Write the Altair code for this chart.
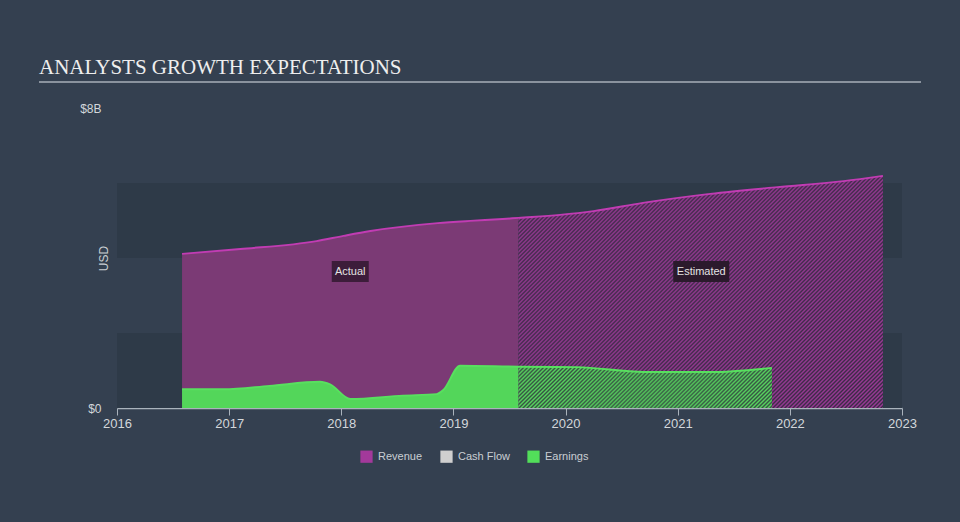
import altair as alt
import pandas as pd

# ---------------- data ----------------
rev_act_x = [2016.58, 2017.1, 2017.78, 2018.02, 2018.26, 2018.86, 2019.15, 2019.44, 2019.58]
rev_act_y = [4.11, 4.24, 4.45, 4.59, 4.72, 4.93, 4.99, 5.04, 5.07]

rev_est_x = [2019.58, 2019.95, 2020.25, 2020.69, 2021.29, 2021.89, 2022.48, 2022.83]
rev_est_y = [5.07, 5.15, 5.25, 5.47, 5.71, 5.89, 6.05, 6.19]

earn_act_x = [2016.58, 2016.95, 2017.36, 2017.81, 2017.9, 2018.08, 2018.55, 2018.85, 2018.91, 2019.06, 2019.58]
earn_act_y = [0.50, 0.50, 0.59, 0.70, 0.63, 0.24, 0.33, 0.37, 0.48, 1.13, 1.10]

earn_est_x = [2019.58, 2020.1, 2020.7, 2021.29, 2021.84]
earn_est_y = [1.10, 1.09, 0.96, 0.96, 1.07]

band_lo = [0, 4]
band_hi = [2, 6]

ann_x = [2018.08, 2021.21]
ann_y = [3.64, 3.64]
ann_text = ["Actual", "Estimated"]

legend_cats = ["Revenue", "Cash Flow", "Earnings"]
legend_colors = ["#a3399b", "#cfcfcf", "#52de5a"]

X_DOMAIN = [2016, 2023]
Y_DOMAIN = [0, 8]
W, H = 785, 300

FONT = "Liberation Sans"
BG = "#344050"


def xs(field):
    return alt.X(
        f"{field}:Q",
        scale=alt.Scale(domain=X_DOMAIN, nice=False, zero=False),
        axis=alt.Axis(
            values=list(range(2016, 2024)), format="d", title=None, grid=False,
            domainColor="#aab3bc", tickColor="#aab3bc", tickSize=7, domainWidth=1.5,
            labelColor="#d3d7db", labelFontSize=13, labelFont=FONT, labelPadding=2,
            labelFlush=False,
        ),
    )


def ys(field):
    return alt.Y(
        f"{field}:Q",
        scale=alt.Scale(domain=Y_DOMAIN, nice=False),
        axis=alt.Axis(
            values=[0, 8], grid=False, domain=False, ticks=False,
            labelExpr="datum.value == 0 ? '$0' : '$' + datum.value + 'B'",
            labelColor="#d3d7db", labelFontSize=12, labelFont=FONT, labelPadding=16,
            title="USD", titleColor="#c9ced3", titleFont=FONT, titleFontSize=12,
            titleFontWeight="normal", titleX=-14, titleY=150, titleAngle=270,
            titleAlign="center", titleBaseline="middle",
        ),
    )


def stripes(c1, c2, w, h, period=4.0):
    """Diagonal '/' hatch as a smooth (triangle-wave) linear gradient."""
    r = h / w
    s = (1 + r) / (1 + r * r)
    n = max(1, int(round((w + h) / period)))
    stops = []
    for i in range(n):
        stops.append(alt.GradientStop(color=c1, offset=i / n))
        stops.append(alt.GradientStop(color=c2, offset=(i + 0.5) / n))
    stops.append(alt.GradientStop(color=c1, offset=1))
    return alt.Gradient(gradient="linear", stops=stops, x1=0, y1=0, x2=s, y2=s * r)


px_x = W / (X_DOMAIN[1] - X_DOMAIN[0])
px_y = H / (Y_DOMAIN[1] - Y_DOMAIN[0])

rev_est_grad = stripes("#9c3a98", "#382a43",
                       (rev_est_x[-1] - rev_est_x[0]) * px_x, max(rev_est_y) * px_y)
earn_est_grad = stripes("#58d35f", "#365443",
                        (earn_est_x[-1] - earn_est_x[0]) * px_x, max(earn_est_y) * px_y)

bands = pd.DataFrame({"lo": band_lo, "hi": band_hi, "x0": X_DOMAIN[0], "x1": X_DOMAIN[1]})
rev_act = pd.DataFrame({"x": rev_act_x, "v": rev_act_y})
rev_est = pd.DataFrame({"x": rev_est_x, "v": rev_est_y})
earn_act = pd.DataFrame({"x": earn_act_x, "v": earn_act_y})
earn_est = pd.DataFrame({"x": earn_est_x, "v": earn_est_y})
ann = pd.DataFrame({"x": ann_x, "v": ann_y, "t": ann_text})
leg = pd.DataFrame({"cat": legend_cats, "x": [2016] * 3, "v": [0] * 3})

band_layer = alt.Chart(bands).mark_rect(color="#2e3a48").encode(
    x=xs("x0"), x2="x1", y=ys("lo"), y2="hi"
)

rev_act_area = alt.Chart(rev_act).mark_area(color="#7b3a75", interpolate="monotone").encode(
    x=xs("x"), y=ys("v")
)
rev_est_area = alt.Chart(rev_est).mark_area(fill=rev_est_grad, interpolate="monotone").encode(
    x=xs("x"), y=ys("v")
)
rev_line = alt.Chart(pd.concat([rev_act, rev_est.iloc[1:]])).mark_line(
    color="#c13cb3", strokeWidth=2, interpolate="monotone"
).encode(x=xs("x"), y=ys("v"))

earn_act_area = alt.Chart(earn_act).mark_area(color="#53d65a", interpolate="monotone").encode(
    x=xs("x"), y=ys("v")
)
earn_est_area = alt.Chart(earn_est).mark_area(fill=earn_est_grad, interpolate="monotone").encode(
    x=xs("x"), y=ys("v")
)
earn_line = alt.Chart(pd.concat([earn_act, earn_est.iloc[1:]])).mark_line(
    color="#58e05f", strokeWidth=2, interpolate="monotone"
).encode(x=xs("x"), y=ys("v"))

ann_act_box = alt.Chart(ann.iloc[[0]]).mark_rect(
    width=37, height=21, color="#3c1d3a"
).encode(x=xs("x"), y=ys("v"))
ann_est_box = alt.Chart(ann.iloc[[1]]).mark_rect(
    width=56, height=21, color="#2b1a2c"
).encode(x=xs("x"), y=ys("v"))
ann_text_layer = alt.Chart(ann).mark_text(
    font=FONT, fontSize=11, color="#e4e4e4", align="center", baseline="middle"
).encode(x=xs("x"), y=ys("v"), text="t:N")

legend_layer = alt.Chart(leg).mark_square(opacity=0, size=0).encode(
    x=xs("x"), y=ys("v"),
    color=alt.Color(
        "cat:N",
        scale=alt.Scale(domain=legend_cats, range=legend_colors),
        legend=alt.Legend(
            title=None, orient="none", legendX=243, legendY=342, direction="horizontal",
            symbolType="square", symbolSize=150, symbolOpacity=1, symbolStrokeWidth=0,
            labelColor="#c9ced3", labelFont=FONT, labelFontSize=11, labelOffset=5,
            columnPadding=17,
        ),
    ),
)

title_rule = alt.Chart(leg.iloc[[0]]).mark_rule(color="#a7afb8", strokeWidth=1.5).encode(
    x=alt.value(-78), x2=alt.value(804), y=alt.value(-26)
)

chart = alt.layer(
    band_layer, rev_act_area, rev_est_area, rev_line,
    earn_act_area, earn_est_area, earn_line,
    ann_act_box, ann_est_box, ann_text_layer, legend_layer, title_rule,
).properties(
    width=W, height=H,
    padding={"left": 117, "top": 108, "right": 58, "bottom": 114},
    autosize=alt.AutoSizeParams(type="none"),
    title=alt.TitleParams(
        text="ANALYSTS GROWTH EXPECTATIONS", anchor="start", frame="group",
        font="Liberation Serif", fontSize=21, fontWeight="normal", color="#eeeeee",
        dx=-78, offset=-14, baseline="alphabetic",
    ),
    background=BG,
).configure_view(stroke=None)

chart.save("out.html", embed_options={"renderer": "svg", "actions": False})
